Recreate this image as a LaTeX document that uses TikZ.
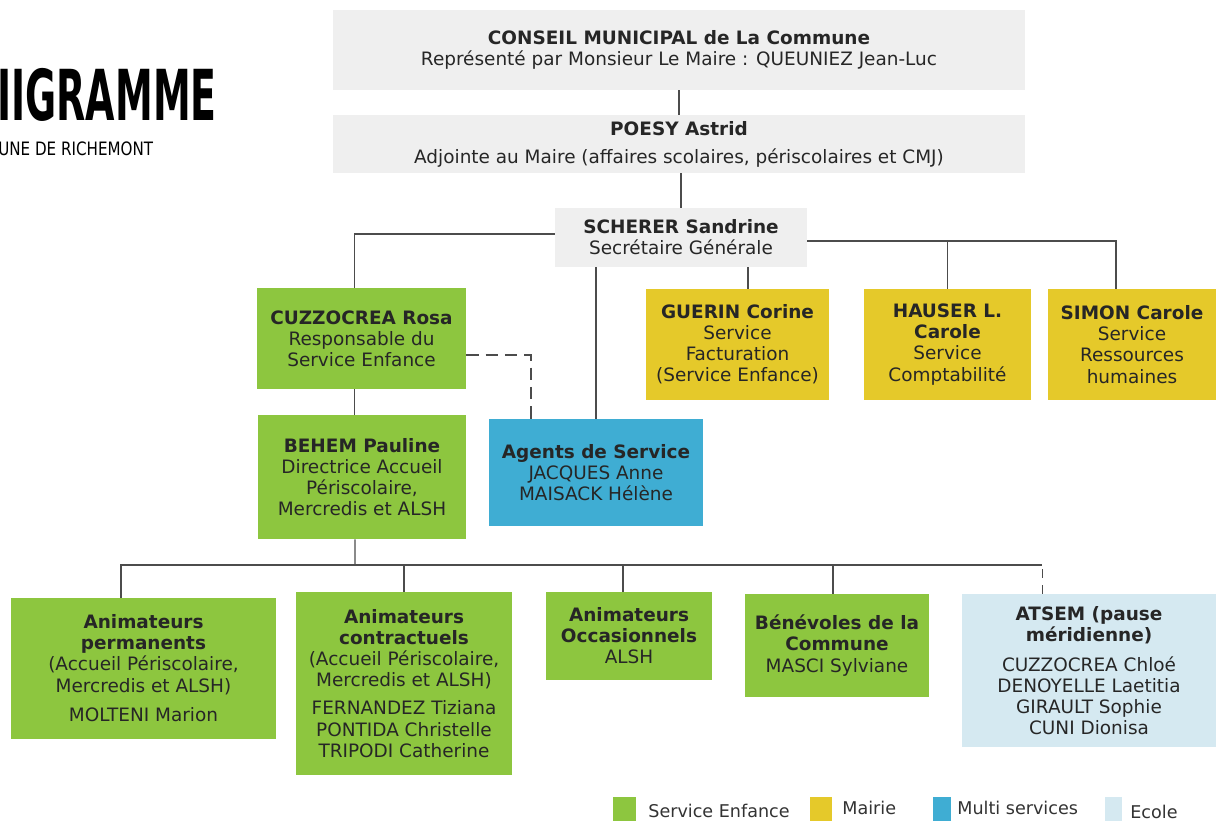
\documentclass[tikz,border=0pt]{standalone}
\usepackage{fontspec}
\setmainfont{DejaVu Sans}
\usetikzlibrary{positioning,calc}

\definecolor{enfance}{HTML}{8DC63F}
\definecolor{mairie}{HTML}{E5C92A}
\definecolor{multi}{HTML}{3FADD3}
\definecolor{ecole}{HTML}{D5E9F1}
\definecolor{gris}{HTML}{EFEFEF}

\tikzset{
	box/.style={inner sep=2pt, align=center, text=black!85, font=\fontsize{10.5}{12}\selectfont},
	grisbox/.style={box, fill=gris},
	enfbox/.style={box, fill=enfance},
	mairiebox/.style={box, fill=mairie},
	multibox/.style={box, fill=multi},
	ecolebox/.style={box, fill=ecole},
	lien/.style={draw=black!70, semithick},
	legende/.style={font=\fontsize{10}{12}\selectfont, text=black!80, anchor=west, inner sep=0pt}
}

\begin{document}
\begin{tikzpicture}[x=0.02cm, y=-0.02cm]
			\useasboundingbox (0,0) rectangle (1222,821);
			% titre
			\node[anchor=base west, inner sep=0pt] (titre) at (-3,120) {\fontsize{40}{40}\selectfont\scalebox{0.54}[1]{\bfseries IIGRAMME}};
			\node[anchor=base west, inner sep=0pt] (commune) at (-2,155) {\fontsize{10.5}{11}\selectfont\scalebox{0.82}[1]{UNE DE RICHEMONT}};
			% direction
			\node[grisbox, minimum width=13.84cm, minimum height=1.6cm]  (conseil) at (679,50) {\textbf{CONSEIL MUNICIPAL de La Commune}\\Représenté par Monsieur Le Maire : QUEUNIEZ Jean-Luc};
			\node[grisbox, minimum width=13.84cm, minimum height=1.16cm] (poesy)   at (679,144) {\textbf{POESY Astrid}\\[4pt]Adjointe au Maire (affaires scolaires, périscolaires et CMJ)};
			\node[grisbox, minimum width=5.04cm, minimum height=1.18cm]  (scherer) at (681,237.5) {\textbf{SCHERER Sandrine}\\Secrétaire Générale};
			% services
			\node[enfbox, minimum width=4.18cm, minimum height=2.02cm]    (cuzz)   at (361.5,338.5) {\textbf{CUZZOCREA Rosa}\\Responsable du\\Service Enfance};
			\node[enfbox, minimum width=4.16cm, minimum height=2.48cm]    (behem)  at (362,477) {\textbf{BEHEM Pauline}\\Directrice Accueil\\Périscolaire,\\Mercredis et ALSH};
			\node[multibox, minimum width=4.28cm, minimum height=2.14cm]  (agents) at (596,472.5) {\textbf{Agents de Service}\\JACQUES Anne\\MAISACK Hélène};
			\node[mairiebox, minimum width=3.66cm, minimum height=2.22cm] (guerin) at (737.5,344.5) {\textbf{GUERIN Corine}\\Service\\Facturation\\(Service Enfance)};
			\node[mairiebox, minimum width=3.34cm, minimum height=2.22cm] (hauser) at (947.5,344.5) {\textbf{HAUSER L.}\\\textbf{Carole}\\Service\\Comptabilité};
			\node[mairiebox, minimum width=3.36cm, minimum height=2.22cm] (simon)  at (1132,344.5) {\textbf{SIMON Carole}\\Service\\Ressources\\humaines};
			% animateurs
			\node[enfbox, minimum width=5.3cm, minimum height=2.82cm]   (perm)   at (143.5,668.5) {\textbf{Animateurs}\\\textbf{permanents}\\(Accueil Périscolaire,\\Mercredis et ALSH)\\[5pt]MOLTENI Marion};
			\node[enfbox, minimum width=4.32cm, minimum height=3.66cm]  (contr)  at (404,683.5) {\textbf{Animateurs}\\\textbf{contractuels}\\(Accueil Périscolaire,\\Mercredis et ALSH)\\[4pt]FERNANDEZ Tiziana\\PONTIDA Christelle\\TRIPODI Catherine};
			\node[enfbox, minimum width=3.32cm, minimum height=1.76cm]  (occ)    at (629,636) {\textbf{Animateurs}\\\textbf{Occasionnels}\\ALSH};
			\node[enfbox, minimum width=3.68cm, minimum height=2.06cm]  (benev)  at (837,645.5) {\textbf{Bénévoles de la}\\\textbf{Commune}\\MASCI Sylviane};
			\node[ecolebox, minimum width=5.08cm, minimum height=3.06cm] (atsem) at (1089,670.5) {\textbf{ATSEM (pause}\\\textbf{méridienne)}\\[5pt]CUZZOCREA Chloé\\DENOYELLE Laetitia\\GIRAULT Sophie\\CUNI Dionisa};
			% liens
			\draw[lien] (conseil) -- (poesy);
			\draw[lien] (scherer.north) -- (scherer.north |- poesy.south);
			\coordinate (sg) at ([yshift=0.07cm]scherer.west);
			\coordinate (sd) at ([yshift=-0.07cm]scherer.east);
			\coordinate (dc) at ([xshift=-0.14cm]cuzz.north);
			\draw[lien] (sg) -| (dc);
			\coordinate (dsimon) at ([xshift=-0.32cm]simon.north);
			\draw[lien] (sd) -| (dsimon);
			\draw[lien] (hauser.north) -- (hauser.north |- sd);
			\coordinate (dguerin) at ([xshift=0.21cm]guerin.north);
			\draw[lien] (dguerin) -- (dguerin |- scherer.south);
			\draw[lien] (agents.north) -- (agents.north |- scherer.south);
			\coordinate (dbehem) at ([xshift=-0.14cm]cuzz.south);
			\draw[lien] (dbehem) -- (dbehem |- behem.north);
			\coordinate (dagents) at ([xshift=-1.3cm]agents.north);
			\draw[lien, dash pattern=on 7pt off 4pt] ([yshift=-0.33cm]cuzz.east) -| (dagents);
			% bus animateurs
			\coordinate (hb) at ([xshift=-0.14cm]behem.south);
			\coordinate (bus) at (355,565);
			\coordinate (dperm) at ([xshift=-0.45cm]perm.north);
			\coordinate (docc) at ([xshift=-0.12cm]occ.north);
			\coordinate (dbenev) at ([xshift=-0.08cm]benev.north);
			\coordinate (datsem) at ([xshift=-0.94cm]atsem.north);
			\draw[lien] (hb) -- (bus);
			\draw[lien] (dperm) |- (datsem |- bus);
			\draw[lien] (contr.north) -- (contr.north |- bus);
			\draw[lien] (docc) -- (docc |- bus);
			\draw[lien] (dbenev) -- (dbenev |- bus);
			\draw[lien, dash pattern=on 5pt off 4pt] (datsem) -- (datsem |- bus);
			% legende
			\node[fill=enfance, minimum width=0.46cm, minimum height=0.48cm, inner sep=0pt] (lenf) at (624.5,809) {};
			\node[legende] (tenf) at (648,811) {Service Enfance};
			\node[fill=mairie, minimum width=0.44cm, minimum height=0.48cm, inner sep=0pt] (lmairie) at (821,809) {};
			\node[legende] (tmairie) at (842,808) {Mairie};
			\node[fill=multi, minimum width=0.36cm, minimum height=0.48cm, inner sep=0pt] (lmulti) at (942,809) {};
			\node[legende] (tmulti) at (957,808) {Multi services};
			\node[fill=ecole, minimum width=0.34cm, minimum height=0.48cm, inner sep=0pt] (lecole) at (1113.5,809) {};
			\node[legende] (tecole) at (1130,812) {Ecole};
		\end{tikzpicture}
\end{document}
